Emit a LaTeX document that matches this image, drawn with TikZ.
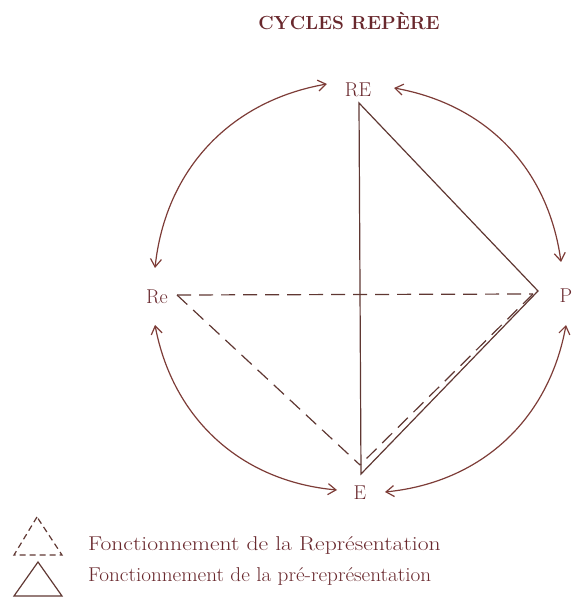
\documentclass[tikz,border=0pt]{standalone}
\usepackage{graphicx}
\usetikzlibrary{arrows.meta}
\definecolor{txt}{RGB}{105,40,45}
\definecolor{ln}{RGB}{95,55,50}
\definecolor{arccol}{RGB}{125,60,55}
\begin{document}
\begin{tikzpicture}[x=1pt,y=1pt,
  lab/.style={text=txt,font=\fontsize{20}{22}\selectfont,inner sep=0pt},
  solidline/.style={draw=ln,line width=1.2pt,line join=miter},
  dashline/.style={draw=ln,line width=1.2pt,dash pattern=on 14pt off 8pt},
  legdash/.style={draw=ln,line width=1.2pt,dash pattern=on 6pt off 4pt},
  cyc/.style={draw=arccol,line width=1.2pt,{Straight Barb[length=8pt,width=11pt]}-{Straight Barb[length=8pt,width=11pt]}},
  legtxt/.style={text=txt,font=\fontsize{20}{22}\selectfont,anchor=base west,inner sep=0pt}]
\useasboundingbox (0,0) rectangle (571,608);

\node[text=txt,font=\bfseries\fontsize{19}{21}\selectfont,anchor=base,inner sep=0pt] (title) at (349,578) {CYCLES REPÈRE};

\node[lab] (RE) at (358,518) {RE};
\node[lab] (Re) at (157,311) {Re};
\node[lab] (P) at (566,312) {P};
\node[lab] (E) at (360,115) {E};

% triangle vertices
\coordinate (T) at (359,505);
\coordinate (Ps) at (538,317);
\coordinate (Es) at (361,134);
\coordinate (Rd) at (177,313);
\coordinate (Pd) at (533,314);
\coordinate (Ed) at (360,143);

\draw[solidline] (T) -- (Ps) -- (Es) -- cycle;
\draw[dashline] (Rd) -- (Pd);
\draw[dashline] (Pd) -- (Ed);
\draw[dashline] (Rd) -- (Ed);

% arcs
\coordinate (a1) at (327,524);
\coordinate (b1) at (155,340);
\coordinate (a2) at (394,520);
\coordinate (b2) at (561,346);
\coordinate (a3) at (155,283);
\coordinate (b3) at (337,118);
\coordinate (a4) at (566,283);
\coordinate (b4) at (385,116);
\draw[cyc] (a1) to[bend right=37] (b1);
\draw[cyc] (a2) to[bend left=36] (b2);
\draw[cyc] (a3) to[bend right=37] (b3);
\draw[cyc] (a4) to[bend left=37] (b4);

% legend
\coordinate (l1a) at (37,91);
\coordinate (l1b) at (14,53);
\coordinate (l1c) at (62,53);
\draw[legdash] (l1a) -- (l1b) -- (l1c) -- cycle;
\coordinate (l2a) at (38,46);
\coordinate (l2b) at (14,12);
\coordinate (l2c) at (62,12);
\draw[solidline] (l2a) -- (l2b) -- (l2c) -- cycle;
\node[legtxt] (leg1) at (88,57) {\scalebox{1.18}[1]{Fonctionnement de la Représentation}};
\node[legtxt] (leg2) at (88,26) {\scalebox{1.06}[1]{Fonctionnement de la pré-représentation}};
\end{tikzpicture}
\end{document}
